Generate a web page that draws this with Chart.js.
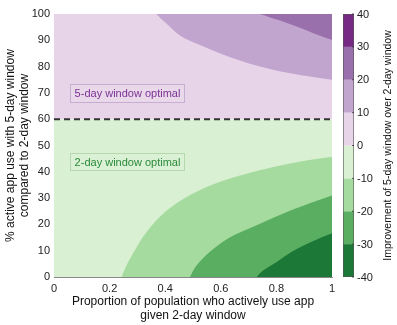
<!DOCTYPE html>
<html><head><meta charset="utf-8">
<script src="https://cdn.jsdelivr.net/npm/chart.js@4.4.0/dist/chart.umd.min.js"></script>
<style>html,body{margin:0;padding:0;background:#fff}</style>
</head><body>
<canvas id="c" width="397" height="325"></canvas>
<script>
// ---- data ----
const xTicks = [0, 0.2, 0.4, 0.6, 0.8, 1];
const yTicks = [0, 10, 20, 30, 40, 50, 60, 70, 80, 90, 100];
const levels = [-40, -30, -20, -10, 0, 10, 20, 30, 40];
const levelColors = ['#1b7837', '#5aae61', '#a6dba0', '#d9f0d3', '#e7d4e8', '#c2a5cf', '#9970ab', '#762a83'];
// contour lines: [proportion, % active use]
const contour0 = [[0, 60], [1, 60]];
const contourP10 = [[0.369, 100], [0.385, 98.2], [0.405, 96.3], [0.453, 91.8], [0.525, 88.2], [0.644, 83.2], [0.765, 79.4], [0.885, 76.8], [1, 75]];
const contourP20 = [[0.741, 100], [0.775, 98.8], [0.813, 97.5], [0.873, 95.2], [0.933, 92.7], [1, 90.1]];
const contourM10 = [[0.243, 0], [0.250, 1.8], [0.258, 3.8], [0.273, 6.8], [0.297, 11.3], [0.321, 15.4], [0.381, 22.9], [0.441, 28.0], [0.513, 32.4], [0.597, 36.2], [0.729, 40.3], [0.849, 43.2], [1, 45.7]];
const contourM20 = [[0.489, 0], [0.497, 1.7], [0.510, 4.0], [0.530, 6.5], [0.561, 9.6], [0.627, 14.7], [0.735, 20.0], [0.855, 25.5], [1, 31.0]];
const contourM30 = [[0.729, 0], [0.740, 1.3], [0.760, 3.0], [0.795, 5.3], [0.855, 9.6], [0.927, 13.4], [1, 16.6]];
const optimalLine = [[0, 60], [1, 60]];
const labels5 = '5-day window optimal';
const labels2 = '2-day window optimal';

const pts = a => a.map(([x, y]) => ({x, y}));
const FONT = "'Liberation Sans', Arial, Helvetica, sans-serif";

function area(data, fill, color, order) {
  return {data: pts(data), fill, backgroundColor: color, borderWidth: 0, pointRadius: 0,
    cubicInterpolationMode: 'monotone', order};
}

const datasets = [
  area(contour0, 'start', levelColors[3], 20),
  area(contour0, 'end', levelColors[4], 20),
  area(contourM10, 'start', levelColors[2], 19),
  area(contourM20, 'start', levelColors[1], 18),
  area(contourM30, 'start', levelColors[0], 17),
  area(contourP10, 'end', levelColors[5], 19),
  area(contourP20, 'end', levelColors[6], 18),
  {data: pts(optimalLine), fill: false, borderColor: '#333', borderWidth: 2, borderDash: [6, 4],
    pointRadius: 0, order: 0}
];

const extras = {
  id: 'extras',
  afterDatasetsDraw(chart) {
    const {ctx, chartArea: ca, scales: {x, y}} = chart;
    ctx.save();
    // annotation boxes
    const boxes = [
      {t: labels5, y0: 73.2, y1: 66.7, fg: '#7b3294', st: '#c7aed0', bg: '#e9d7ea'},
      {t: labels2, y0: 47.3, y1: 40.5, fg: '#2a8a3a', st: '#b6d8ae', bg: '#dbf1d5'}
    ];
    boxes.forEach(b => {
      const x0 = Math.round(x.getPixelForValue(0.056)) + 0.5;
      const x1 = Math.round(x.getPixelForValue(0.466)) + 0.5;
      const py0 = Math.round(y.getPixelForValue(b.y0)) + 0.5;
      const py1 = Math.round(y.getPixelForValue(b.y1)) + 0.5;
      ctx.fillStyle = b.bg;
      ctx.fillRect(x0, py0, x1 - x0, py1 - py0);
      ctx.strokeStyle = b.st; ctx.lineWidth = 1;
      ctx.strokeRect(x0, py0, x1 - x0, py1 - py0);
      ctx.fillStyle = b.fg;
      ctx.font = '11px ' + FONT;
      ctx.textAlign = 'center'; ctx.textBaseline = 'middle';
      ctx.fillText(b.t, (x0 + x1) / 2, (py0 + py1) / 2 + 0.5);
    });
    // colorbar
    const cx0 = 343, cw = 11;
    const top = ca.top, bot = ca.bottom;
    const lv2px = v => bot - (v - levels[0]) / (levels[levels.length - 1] - levels[0]) * (bot - top);
    for (let i = 0; i < levelColors.length; i++) {
      const a = lv2px(levels[i]), b = lv2px(levels[i + 1]);
      ctx.fillStyle = levelColors[i];
      ctx.fillRect(cx0, b, cw, a - b);
    }
    ctx.strokeStyle = '#555'; ctx.lineWidth = 0.6;
    ctx.strokeRect(cx0 + 0.3, top + 0.3, cw - 0.6, bot - top - 0.6);
    ctx.fillStyle = '#222';
    ctx.font = '11px ' + FONT;
    ctx.textAlign = 'left'; ctx.textBaseline = 'middle';
    levels.forEach(v => {
      const py = lv2px(v);
      ctx.strokeStyle = '#333'; ctx.lineWidth = 0.8;
      ctx.beginPath(); ctx.moveTo(cx0 + cw - 2, py); ctx.lineTo(cx0 + cw, py); ctx.stroke();
      ctx.fillText(String(v), cx0 + cw + 3, py + 0.5);
    });
    ctx.save();
    ctx.translate(388, (top + bot) / 2);
    ctx.rotate(-Math.PI / 2);
    ctx.font = '10.5px ' + FONT;
    ctx.textAlign = 'center'; ctx.textBaseline = 'middle';
    ctx.fillStyle = '#111';
    ctx.fillText('Improvement of 5-day window over 2-day window', 0, 0);
    ctx.restore();
    ctx.restore();
  }
};

new Chart(document.getElementById('c'), {
  type: 'line',
  data: {datasets},
  plugins: [extras],
  options: {
    responsive: false, animation: false, devicePixelRatio: 1,
    layout: {padding: {left: 0, right: 65, top: 14, bottom: 0}},
    plugins: {legend: {display: false}, tooltip: {enabled: false}},
    scales: {
      x: {
        type: 'linear', min: 0, max: 1, z: 1,
        afterFit: s => { s.height = 48; },
        afterBuildTicks: s => { s.ticks = xTicks.map(v => ({value: v})); },
        grid: {display: false, drawTicks: false},
        border: {display: true, color: '#888', width: 1},
        ticks: {padding: 5, color: '#222', font: {family: FONT, size: 11}, maxRotation: 0,
          callback: v => String(v)},
        title: {display: true, text: ['Proportion of population who actively use app', 'given 2-day window'],
          color: '#111', font: {family: FONT, size: 12, lineHeight: 1.2}, padding: {top: 0, bottom: 2}}
      },
      y: {
        type: 'linear', min: 0, max: 100,
        afterFit: s => { s.width = 54; },
        afterBuildTicks: s => { s.ticks = yTicks.map(v => ({value: v})); },
        grid: {display: false, drawTicks: false},
        border: {display: false},
        ticks: {padding: 4, color: '#222', font: {family: FONT, size: 11}},
        title: {display: true, text: ['% active app use with 5-day window', 'compared to 2-day window'],
          color: '#111', font: {family: FONT, size: 12, lineHeight: 1.15}, padding: {top: 4, bottom: 0}}
      }
    }
  }
});
</script>
</body></html>
